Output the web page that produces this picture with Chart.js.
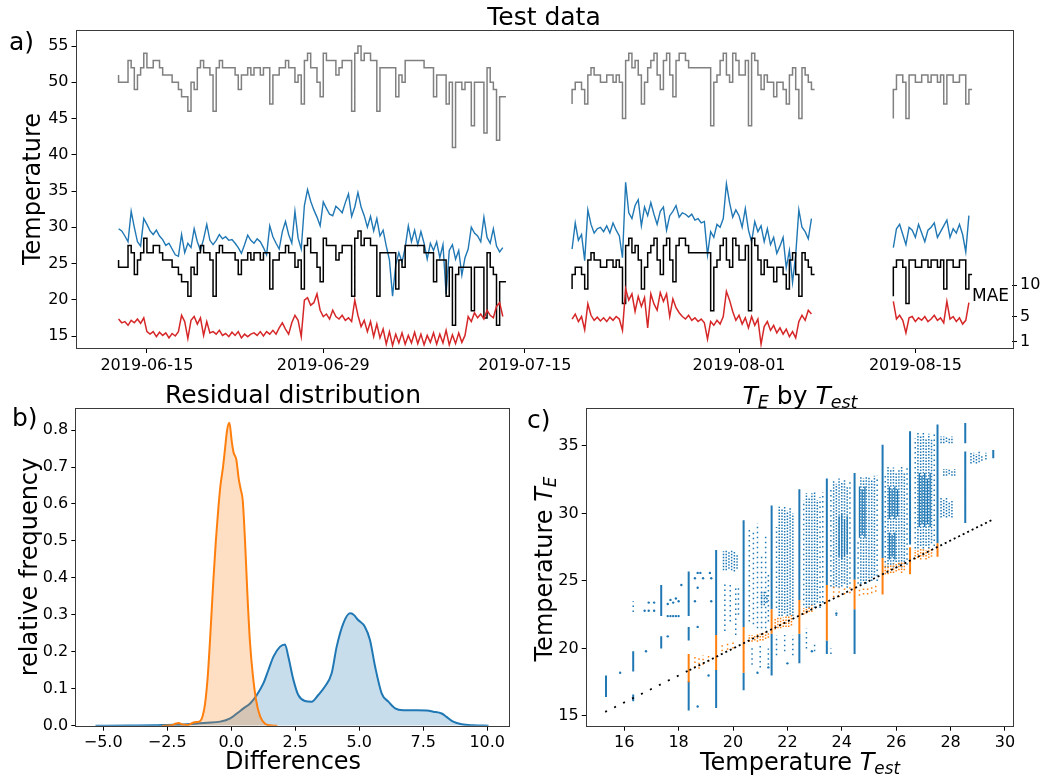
<!DOCTYPE html>
<html>
<head>
<meta charset="utf-8">
<script src="https://cdn.jsdelivr.net/npm/chart.js@4.4.4/dist/chart.umd.min.js"></script>
<style>
  html, body { margin: 0; padding: 0; background: #fff; }
  #wrap { position: relative; width: 1059px; height: 779px; overflow: hidden;
          font-family: 'DejaVu Sans', sans-serif; color: #000; }
  canvas { position: absolute; }
  .t { position: absolute; white-space: nowrap; line-height: 1; }
  .c { transform: translateX(-50%); }
  .r { transform: translate(-50%, -50%) rotate(-90deg); }
  sub { font-size: 70%; vertical-align: -0.25em; line-height: 0; }
</style>
</head>
<body>
<div id="wrap">
  <canvas id="chart-a" width="1059" height="380" style="left:0;top:0"></canvas>
  <canvas id="chart-b" width="530" height="399" style="left:0;top:380px"></canvas>
  <canvas id="chart-c" width="529" height="399" style="left:530px;top:380px"></canvas>

  <div class="t c" style="left:544px;top:4px;font-size:25px">Test data</div>
  <div class="t" style="left:9px;top:29px;font-size:25px">a)</div>
  <div class="t r" style="left:32px;top:189px;font-size:24px">Temperature</div>
  <div class="t" style="left:972px;top:287px;font-size:17px">MAE</div>

  <div class="t c" style="left:293px;top:382px;font-size:25px">Residual distribution</div>
  <div class="t" style="left:12px;top:405px;font-size:25px">b)</div>
  <div class="t r" style="left:29px;top:567px;font-size:24px">relative frequency</div>
  <div class="t c" style="left:293px;top:749px;font-size:24px">Differences</div>

  <div class="t c" style="left:800px;top:383px;font-size:25px"><i>T</i><sub><i>E</i></sub> by <i>T</i><sub><i>est</i></sub></div>
  <div class="t" style="left:527px;top:407px;font-size:25px">c)</div>
  <div class="t r" style="left:544px;top:569px;font-size:24px">Temperature <i>T</i><sub><i>E</i></sub></div>
  <div class="t c" style="left:800px;top:750px;font-size:24px">Temperature <i>T</i><sub><i>est</i></sub></div>
</div>

<script>
// ─── Panel a: test data time series ─────────────────────────────────────────
// x in days since 2019-06-01
const tickDays   = [14, 28, 44, 61, 75];
const tickLabels = ['2019-06-15', '2019-06-29', '2019-07-15', '2019-08-01', '2019-08-15'];
const tempTicks  = [15, 20, 25, 30, 35, 40, 45, 50, 55];
const maeTicks   = [1, 5, 10];
const segStart   = [11.75, 47.75, 73.25];
const sampleStep = 0.25;  // days between samples

const grayS1 = [51,50,50,50,53,52,49,51,52,54,52,52,53,53,52,51,51,51,50,50,49,48,48,46,50,49,52,53,52,52,51,46,
                52,53,52,52,52,52,51,49,51,51,52,51,52,52,51,52,52,47,51,51,52,52,53,52,52,50,51,47,53,54,52,52,
                50,48,54,53,53,53,51,52,53,53,53,46,54,55,53,54,54,53,53,46,52,52,52,52,52,48,51,50,53,53,53,53,
                53,53,52,52,52,48,51,51,51,47,50,41,50,50,49,50,50,44,50,50,50,43,52,50,49,42,48,48];
const grayS2 = [47,49,50,50,49,47,51,52,51,51,50,50,51,51,50,51,50,45,53,54,52,53,51,47,50,52,53,54,51,49,53,54,
                51,48,53,54,54,53,52,52,52,52,52,52,52,44,50,51,53,54,51,50,54,53,51,51,53,44,54,53,51,49,51,50,
                50,48,50,50,49,47,51,52,49,45,52,51,50,49];
const grayS3 = [45,49,51,51,50,45,51,51,50,50,51,51,50,51,51,50,51,47,51,51,50,50,51,51,47,49];

const blackS1 = [25.5,24.5,24.5,24.5,27.5,26.5,23.5,25.5,26.5,28.5,26.5,26.5,27.5,27.5,26.5,25.5,25.5,25.5,24.5,24.5,
                 23.5,22.5,22.5,20.5,24.5,23.5,26.5,27.5,26.5,26.5,25.5,20.5,26.5,27.5,26.5,26.5,26.5,26.5,25.5,23.5,
                 25.5,25.5,26.5,25.5,26.5,26.5,25.5,26.5,26.5,21.5,25.5,25.5,26.5,26.5,27.5,26.5,26.5,24.5,25.5,21.5,
                 27.5,28.5,26.5,26.5,24.5,22.5,28.5,27.5,27.5,27.5,25.5,26.5,27.5,27.5,27.5,20.5,28.5,29.5,27.5,28.5,
                 28.5,27.5,27.5,20.5,26.5,26.5,26.5,26.5,26.5,21.5,25.5,24.5,27.5,27.5,27.5,27.5,27.5,27.5,26.5,26.5,
                 26.5,22.5,25.5,25.5,25.5,20.5,24.5,16.5,23.5,24.5,24.5,24.5,24.5,18.5,24.5,24.5,24.5,17.5,26.5,24.5,
                 23.5,16.5,22.5,22.5];
const blackS2 = [21.5,23.5,24.5,24.5,23.5,21.5,25.5,26.5,25.5,25.5,24.5,24.5,25.5,25.5,24.5,25.5,24.5,19.5,27.5,28.5,
                 26.5,27.5,25.5,21.5,24.5,26.5,27.5,28.5,25.5,23.5,27.5,28.5,25.5,22.5,27.5,28.5,28.5,27.5,26.5,26.5,
                 26.5,26.5,26.5,26.5,26.5,18.5,24.5,25.5,27.5,28.5,25.5,24.5,28.5,27.5,25.5,25.5,27.5,18.5,28.5,27.5,
                 25.5,23.5,25.5,24.5,24.5,22.5,24.5,24.5,23.5,21.5,25.5,26.5,23.5,20.5,26.5,25.5,24.5,23.5];
const blackS3 = [20.5,24.5,25.5,25.5,24.5,19.5,25.5,25.5,24.5,24.5,25.5,25.5,24.5,25.5,25.5,24.5,25.5,21.5,25.5,25.5,
                 24.5,24.5,25.5,25.5,21.5,23.5];

const blueS1 = [29.8,29.5,28.8,28.0,32.2,30.0,28.0,27.4,31.2,30.4,29.5,29.0,29.6,28.8,28.3,27.5,27.8,27.0,26.2,26.0,
                29.0,26.5,27.8,27.2,29.8,28.0,26.8,28.4,30.4,28.2,27.6,28.2,29.0,28.4,28.7,28.2,28.3,27.8,27.2,26.4,
                27.6,28.9,28.2,27.8,28.4,28.0,27.2,26.2,30.2,28.7,27.8,27.0,29.4,30.8,29.0,27.8,32.2,28.5,27.0,33.0,
                35.2,33.6,32.4,31.4,30.2,33.5,32.6,31.8,31.6,32.9,32.5,32.0,33.4,34.6,31.5,32.8,34.8,32.8,31.6,30.0,
                31.5,29.5,31.2,28.8,29.6,27.4,25.5,20.5,24.8,26.5,25.2,27.2,30.2,28.0,29.6,27.6,29.4,27.8,25.6,27.8,
                26.8,28.0,25.8,27.6,20.8,26.8,27.6,25.6,26.8,23.4,25.8,27.0,30.0,29.2,28.8,28.0,31.4,28.6,27.8,29.8,
                27.4,26.6,27.2];
const blueS2 = [27.0,30.6,28.2,29.0,25.4,32.4,30.4,29.2,29.8,30.0,29.4,30.2,29.2,30.6,29.6,28.8,25.8,36.2,32.0,31.2,
                33.0,33.8,30.2,32.8,31.6,33.4,31.8,30.4,32.2,32.8,29.6,31.6,32.2,33.0,31.4,32.0,31.8,31.4,31.8,31.0,
                31.2,30.6,30.8,26.2,29.4,28.6,30.4,30.0,31.2,36.0,33.4,31.4,32.4,31.6,30.0,32.6,29.6,28.0,30.8,29.4,
                30.2,28.0,29.8,27.6,28.6,26.4,27.4,28.6,24.4,26.8,22.4,26.2,32.4,30.0,29.4,28.4,31.2];
const blueS3 = [27.2,29.8,30.4,29.0,27.6,30.0,29.6,28.6,30.4,29.2,28.0,29.6,30.0,30.6,28.6,29.4,30.2,31.0,28.6,29.8,
                29.2,30.4,29.0,26.6,31.6];

// MAE values (right axis)
const redS1 = [4.6,4.0,4.2,3.6,4.4,4.0,4.6,3.9,4.8,2.6,2.2,2.6,1.8,2.5,2.0,2.4,1.6,2.3,1.9,2.6,
               5.2,4.2,1.5,4.4,5.0,3.8,4.8,2.0,4.2,2.4,2.6,2.2,2.8,2.0,2.3,1.8,2.5,2.0,2.6,1.6,
               2.2,1.8,2.2,2.4,2.0,2.6,1.9,2.6,2.2,2.8,2.2,3.2,4.0,3.0,2.2,4.0,5.2,4.4,1.8,7.6,
               8.0,6.8,7.2,8.6,6.0,5.0,5.4,4.6,6.0,5.0,4.6,5.2,4.4,4.8,4.2,7.6,5.2,3.4,4.4,2.6,
               4.2,1.8,3.8,1.6,3.0,0.6,2.6,0.4,2.2,0.8,2.4,0.6,2.0,0.8,2.5,0.7,2.2,0.5,2.0,0.9,
               2.4,0.6,2.2,0.8,2.8,0.5,2.1,0.7,2.4,0.9,2.0,5.0,4.2,5.6,4.8,5.4,4.6,6.0,5.2,4.8,
               6.6,7.2,5.0];
const redS2 = [4.6,5.4,4.2,5.0,2.9,7.0,5.2,4.4,4.9,4.3,4.8,4.2,4.9,4.4,5.0,4.6,2.8,9.4,7.6,8.6,
               5.8,8.2,6.6,8.0,3.2,8.6,7.0,6.0,8.8,7.4,8.6,5.0,7.8,6.4,5.6,5.0,4.6,5.2,4.4,4.8,
               4.2,4.6,4.0,1.4,4.2,3.6,4.4,3.8,5.0,9.0,7.6,5.8,4.4,5.2,3.8,4.8,3.2,5.0,3.6,4.6,
               0.6,3.4,4.2,2.8,3.6,2.4,3.2,2.2,3.0,1.8,2.6,1.6,4.2,5.2,4.4,6.0,5.4];
const redS3 = [7.4,4.6,5.2,4.4,2.4,4.8,5.0,4.2,4.8,4.4,5.0,4.2,4.6,5.2,4.4,4.8,4.0,7.4,4.6,5.0,
               4.2,4.8,3.8,4.4,7.2];

// ─── Panel b: residual KDEs ─────────────────────────────────────────────────
const diffTicks      = [-5, -2.5, 0, 2.5, 5, 7.5, 10];
const diffTickLabels = ['\u22125.0', '\u22122.5', '0.0', '2.5', '5.0', '7.5', '10.0'];
const freqTicks      = [0, 0.1, 0.2, 0.3, 0.4, 0.5, 0.6, 0.7, 0.8];

const kdeOrangeX = [-2.7,-2.35,-2.15,-2.05,-1.9,-1.7,-1.5,-1.35,-1.22,-1.12,-1.02,-0.92,-0.82,-0.7,-0.6,-0.5,-0.42,-0.32,
                    -0.24,-0.16,-0.07,0.02,0.09,0.2,0.29,0.37,0.45,0.54,0.63,0.73,0.84,0.97,1.13,1.32,1.52,1.8];
const kdeOrangeY = [0,0.001,0.006,0.007,0.003,0.002,0.008,0.01,0.012,0.025,0.06,0.13,0.24,0.39,0.5,0.59,0.65,0.7,
                    0.75,0.8,0.82,0.77,0.74,0.72,0.67,0.64,0.61,0.5,0.36,0.23,0.14,0.07,0.025,0.005,0.001,0];
const kdeBlueX = [-5.3,-4.0,-3.0,-2.5,-1.86,-0.95,-0.43,-0.04,0.22,0.48,0.74,1.0,1.26,1.45,1.65,1.91,2.1,2.23,2.43,2.62,
                  2.88,3.14,3.4,3.66,3.92,4.12,4.38,4.64,4.77,4.96,5.22,5.42,5.62,5.88,6.14,6.4,6.72,7.24,7.63,7.89,
                  8.22,8.41,8.67,9.0,9.45,10.05];
const kdeBlueY = [0,0.0005,0.001,0.002,0.003,0.008,0.011,0.02,0.033,0.047,0.06,0.083,0.115,0.15,0.187,0.214,0.22,0.187,0.124,0.083,
                  0.067,0.065,0.083,0.106,0.141,0.214,0.277,0.304,0.301,0.286,0.268,0.232,0.16,0.087,0.065,0.047,0.042,0.042,0.041,0.038,
                  0.033,0.024,0.011,0.004,0.001,0];

// ─── Panel c: T_E by T_est ─────────────────────────────────────────────────
const estTicks = [16, 18, 20, 22, 24, 26, 28, 30];
const teTicks  = [15, 20, 25, 30, 35];

// [x, yLow, yHigh] solid columns of overlapping points
const blueCols = [[15.33,16.4,18.0],[16.33,16.1,16.6],[16.33,18.3,19.8],[17.36,22.4,24.7],[17.36,20.0,20.9],
  [18.37,22.4,25.7],[18.37,20.6,21.6],[18.37,15.4,17.6],[19.38,21.0,27.3],[19.38,15.6,18.4],
  [20.39,21.6,29.5],[20.39,16.9,18.2],[21.42,22.9,30.6],[21.42,18.0,21.1],[22.44,23.6,31.8],[22.44,18.9,21.1],
  [23.45,24.7,32.6],[23.45,19.6,20.6],[24.47,25.1,33.0],[24.47,19.6,22.9],[25.5,26.7,35.1],[26.51,27.7,36.1],
  [27.52,27.8,36.6],[28.54,35.2,36.7],[28.54,29.3,34.6],[29.57,34.1,34.7]];
const orangeCols = [[18.37,17.5,19.6],[19.38,18.4,21.0],[20.39,18.2,21.6],[21.42,21.1,22.9],[22.44,21.1,23.6],
  [23.45,20.6,24.7],[24.47,22.9,25.1],[25.5,24.0,26.7],[26.51,25.5,27.5],[27.52,26.8,27.8]];

// [x, yLow, yHigh] streaks of separate points
const blueSparse = [[16.33,22.7,23.5],[19.7,21.3,25.0],[19.9,22.0,24.8],[20.1,21.0,24.6],[20.2,22.5,24.5],
  [20.6,22.0,29.0],[20.75,21.8,28.8],[20.9,21.5,29.3],[21.05,21.5,27.0],[21.2,21.5,28.5],[21.3,22.0,25.5],
  [20.7,18.8,20.2],[21.0,18.6,20.3],[21.3,18.8,20.0],[21.6,23.0,29.0],[21.6,19.5,21.0],[21.9,19.8,21.0],[22.2,19.5,21.0],
  [22.6,23.2,31.0],[23.2,23.0,31.2],[23.3,23.4,31.6],[22.7,20.0,21.5],[23.0,19.8,20.5],
  [23.6,24.6,32.0],[24.3,24.8,32.4],[23.8,22.4,22.8],[23.6,19.6,20.0],[25.3,25.0,32.8],[24.6,24.8,28.0],
  [25.6,26.0,33.0],[26.4,26.2,33.5],[26.7,27.4,35.6],[27.4,27.6,36.0]];
const blueDense = [[19.65,25.8,27.2],[19.75,25.8,27.3],[19.85,25.9,27.2],[19.95,25.8,27.3],[20.05,25.7,27.2],[20.15,25.9,27.0],
  [21.05,23.2,24.3],[21.15,23.2,24.3],[21.25,23.4,24.0],
  [21.7,22.4,30.5],[21.8,22.4,30.4],[21.9,22.6,30.6],[22.0,22.4,30.2],[22.1,22.5,30.5],[22.2,22.4,30.0],
  [22.7,23.0,31.5],[22.8,23.0,31.2],[22.9,23.2,31.5],[23.0,23.0,31.6],[23.1,23.4,31.0],
  [23.7,24.5,32.5],[23.8,24.6,32.2],[23.9,24.5,32.6],[24.0,24.6,32.3],[24.1,24.8,32.5],[24.2,24.5,32.0],
  [24.7,24.8,32.8],[24.8,25.0,32.6],[24.9,24.8,32.8],[25.0,25.2,32.7],[25.1,25.0,32.5],[25.2,25.4,32.8],
  [25.7,26.0,33.5],[25.8,26.2,33.2],[25.9,26.0,33.4],[26.0,26.4,33.0],[26.1,26.2,33.3],[26.2,26.0,33.5],[26.3,26.4,33.0],
  [26.8,27.4,36.0],[26.9,27.6,35.8],[27.0,27.4,36.0],[27.1,27.6,35.6],[27.2,27.4,35.9],[27.3,27.8,35.5],
  [27.65,35.2,35.7],[27.75,35.2,35.7],[27.85,35.3,35.7],[27.95,35.2,35.6],[28.05,35.2,35.7],
  [27.75,32.8,33.3],[27.85,32.8,33.3],[27.95,32.9,33.3],[28.05,32.8,33.2],[28.15,32.8,33.3],
  [27.65,29.7,31.2],[27.75,29.8,31.0],[27.85,29.7,31.2],[27.95,29.8,30.8],[28.05,29.7,31.0],
  [28.75,33.7,34.6],[28.85,33.8,34.5],[28.95,33.7,34.4],[29.05,33.8,34.6],[29.15,33.9,34.3],[29.3,34.0,34.5]];
const blueHeavy = [[23.9,26.8,29.8],[24.0,26.6,30.0],[24.1,26.8,29.6],[24.2,27.0,29.8],
  [24.65,28.2,32.0],[24.75,28.4,31.8],[24.85,28.2,32.0],
  [25.75,29.6,32.0],[25.85,29.8,31.8],[25.95,29.6,32.0],[26.05,29.8,31.8],
  [25.75,26.6,28.6],[25.85,26.8,28.4],[25.95,26.6,28.6],
  [26.85,29.0,33.0],[26.95,29.2,32.8],[27.05,29.0,33.0],[27.15,29.2,32.6],[27.25,29.0,33.0]];
const orangeDense = [[20.6,20.5,21.0],[20.7,20.5,21.0],[20.8,20.6,21.0],[20.9,20.5,21.1],[21.0,20.6,21.1],[21.1,20.6,21.2],
  [21.2,20.7,21.2],[21.3,20.8,21.2],
  [21.55,21.4,22.2],[21.65,21.5,22.3],[21.75,21.5,22.3],[21.85,21.6,22.3],[21.95,21.6,22.4],[22.05,21.6,22.4],[22.15,21.7,22.5],
  [22.6,22.5,23.0],[22.7,22.6,23.0],[22.8,22.7,23.1],[22.9,22.7,23.2],
  [25.6,25.5,26.2],[25.7,25.5,26.2],[25.8,25.6,26.2],[25.9,25.6,26.3],[26.0,25.7,26.3],[26.1,25.8,26.4],[26.2,25.6,26.4],[26.3,25.8,26.4],
  [26.7,26.6,27.3],[26.8,26.7,27.3],[26.9,26.6,27.4],[27.0,26.8,27.4],[27.1,26.6,27.3],[27.2,26.7,27.4],[27.3,26.8,27.4]];
const orangeSparse = [[18.6,18.6,19.6],[18.75,18.5,19.4],[18.9,18.8,19.5],[19.1,19.0,19.6],
  [19.6,19.8,20.4],[19.8,19.9,20.5],[20.0,20.0,20.6],
  [23.7,23.8,24.6],[23.9,23.8,24.5],[24.1,24.0,24.6],[24.3,24.1,24.7],
  [24.65,23.9,24.5],[24.8,24.0,24.5],[24.95,24.0,24.6],[25.1,24.1,24.6],[25.25,24.2,24.8]];
const blueDotX = [15.85,16.8,16.75,16.9,17.1,16.9,17.1,17.6,17.7,17.8,17.9,18.0,17.6,17.7,17.8,17.9,18.0,18.1,17.6,
                  18.6,18.7,18.8,18.9,19.15,19.2,18.7,18.6,19.2,18.7,18.7,19.1,20.9,21.3,22.0,22.9,23.8];
const blueDotY = [18.2,19.8,22.8,22.8,22.8,23.4,23.4,22.4,22.4,22.4,22.4,22.4,23.3,23.6,23.4,23.7,23.5,24.7,20.9,
                  25.2,25.6,25.6,25.2,25.6,25.2,24.5,23.5,23.5,21.6,15.7,18.0,18.2,18.6,18.9,19.8,22.6];
const diagSparseX = [15.3, 18.4], diagSparseY = [15.3, 18.4];
const diagDenseX  = [18.4, 29.6], diagDenseY  = [18.4, 29.6];

// ─── Helpers ────────────────────────────────────────────────────────────────
Chart.defaults.font.family = "'DejaVu Sans', sans-serif";
Chart.defaults.font.size   = 16;
Chart.defaults.color       = '#000';
Chart.defaults.animation   = false;

const BLUE = '#1f77b4', ORANGE = '#ff7f0e', RED = '#d62728', GRAY = '#808080';

function segPoints(starts, segs, step) {
  const pts = [];
  segs.forEach((vals, k) => {
    vals.forEach((v, i) => pts.push({ x: starts[k] + i * step, y: v }));
    pts.push({ x: starts[k] + vals.length * step, y: null });
  });
  return pts;
}

function streakPoints(list) {
  const pts = [];
  list.forEach(([x, lo, hi]) => pts.push({ x, y: lo }, { x, y: hi }, { x, y: null }));
  return pts;
}

function xyPoints(xs, ys) {
  return xs.map((x, i) => ({ x, y: ys[i] }));
}

function axis(opts) {
  const ax = {
    type: 'linear',
    grid: { display: true, drawOnChartArea: false, drawTicks: true, tickLength: 5, tickColor: '#000', tickWidth: 1 },
    border: { display: false },
    ticks: { color: '#000', font: { size: 16 }, autoSkip: false, maxRotation: 0, minRotation: 0, padding: 3 },
  };
  const tickVals = opts.tickVals;
  const labels   = opts.labels;
  const fmt      = opts.fmt;
  delete opts.tickVals; delete opts.labels; delete opts.fmt;
  Object.assign(ax, opts);
  ax.afterBuildTicks = s => { s.ticks = tickVals.map(v => ({ value: v })); };
  if (labels) ax.ticks.callback = (v, i) => labels[i];
  if (fmt) ax.ticks.callback = fmt;
  return ax;
}

// draws the full rectangular frame round the plot area
const framePlugin = {
  id: 'frame',
  afterDatasetsDraw(chart) {
    const { ctx, chartArea: a } = chart;
    ctx.save();
    ctx.strokeStyle = '#3a3a3a';
    ctx.lineWidth = 1;
    ctx.strokeRect(Math.round(a.left) - 0.5, Math.round(a.top) - 0.5,
                   Math.round(a.right - a.left) + 1, Math.round(a.bottom - a.top) + 1);
    ctx.restore();
  },
};

const baseOptions = {
  responsive: false,
  animation: false,
  devicePixelRatio: 1,
  elements: { point: { radius: 0 }, line: { borderWidth: 1.5, tension: 0 } },
  plugins: { legend: { display: false }, tooltip: { enabled: false } },
};

// ─── Chart a ────────────────────────────────────────────────────────────────
new Chart(document.getElementById('chart-a'), {
  type: 'line',
  data: {
    datasets: [
      { data: segPoints(segStart, [redS1, redS2, redS3], sampleStep), borderColor: RED, borderWidth: 1.5,
        yAxisID: 'mae', order: 0 },
      { data: segPoints(segStart, [blackS1, blackS2, blackS3], sampleStep), borderColor: '#000',
        stepped: 'after', yAxisID: 'y', order: 1 },
      { data: segPoints(segStart, [blueS1, blueS2, blueS3], sampleStep), borderColor: BLUE, borderWidth: 1.4,
        yAxisID: 'y', order: 2 },
      { data: segPoints(segStart, [grayS1, grayS2, grayS3], sampleStep), borderColor: GRAY,
        stepped: 'after', yAxisID: 'y', order: 3 },
    ],
  },
  options: {
    ...baseOptions,
    layout: { padding: { left: 30.5, right: 11, top: 31, bottom: 8 } },
    scales: {
      x: axis({ position: 'bottom', min: 8.41, max: 82.67, tickVals: tickDays, labels: tickLabels,
                afterFit: s => { s.height = 24; } }),
      y: axis({ position: 'left', min: 13.35, max: 57.07, tickVals: tempTicks,
                afterFit: s => { s.width = 46; } }),
      mae: axis({ position: 'right', min: 0, max: 50.37, tickVals: maeTicks,
                  afterFit: s => { s.width = 36; } }),
    },
  },
  plugins: [framePlugin],
});

// ─── Chart b ────────────────────────────────────────────────────────────────
new Chart(document.getElementById('chart-b'), {
  type: 'line',
  data: {
    datasets: [
      { data: xyPoints(kdeOrangeX, kdeOrangeY), borderColor: ORANGE, backgroundColor: 'rgba(255,127,14,0.25)',
        fill: 'origin', borderWidth: 2, cubicInterpolationMode: 'monotone', order: 0 },
      { data: xyPoints(kdeBlueX, kdeBlueY), borderColor: BLUE, backgroundColor: 'rgba(31,119,180,0.25)',
        fill: 'origin', borderWidth: 2, cubicInterpolationMode: 'monotone', order: 1 },
    ],
  },
  options: {
    ...baseOptions,
    layout: { padding: { left: 30.3, right: 21, top: 29, bottom: 29.3 } },
    scales: {
      x: axis({ position: 'bottom', min: -6.05, max: 10.85, tickVals: diffTicks, labels: diffTickLabels,
                afterFit: s => { s.height = 24; } }),
      y: axis({ position: 'left', min: 0, max: 0.857, tickVals: freqTicks, fmt: v => v.toFixed(1),
                afterFit: s => { s.width = 46; } }),
    },
  },
  plugins: [framePlugin],
});

// ─── Chart c ────────────────────────────────────────────────────────────────
new Chart(document.getElementById('chart-c'), {
  type: 'line',
  data: {
    datasets: [
      { data: xyPoints(diagDenseX, diagDenseY), borderColor: '#000', borderWidth: 1.8, borderDash: [2, 3], order: 0 },
      { data: xyPoints(diagSparseX, diagSparseY), borderColor: '#000', borderWidth: 1.8, borderDash: [2, 8], order: 0 },
      { data: streakPoints(orangeCols), borderColor: ORANGE, borderWidth: 2, order: 1 },
      { data: streakPoints(orangeDense), borderColor: ORANGE, borderWidth: 1.5, borderDash: [1.5, 1.5], order: 2 },
      { data: streakPoints(orangeSparse), borderColor: ORANGE, borderWidth: 1.5, borderDash: [1.5, 3], order: 2 },
      { data: streakPoints(blueCols), borderColor: BLUE, borderWidth: 2, order: 3 },
      { data: streakPoints(blueHeavy), borderColor: BLUE, borderWidth: 1.3, order: 4 },
      { data: streakPoints(blueDense), borderColor: BLUE, borderWidth: 1.5, borderDash: [1.5, 1.5], order: 5 },
      { data: streakPoints(blueSparse), borderColor: BLUE, borderWidth: 1.5, borderDash: [1.5, 3.5], order: 5 },
      { data: xyPoints(blueDotX, blueDotY), showLine: false, pointRadius: 1.2, pointBorderWidth: 0,
        pointBackgroundColor: BLUE, order: 5 },
    ],
  },
  options: {
    ...baseOptions,
    layout: { padding: { left: 20.7, right: 46.7, top: 29, bottom: 29.3 } },
    scales: {
      x: axis({ position: 'bottom', min: 14.62, max: 30.27, tickVals: estTicks,
                afterFit: s => { s.height = 24; } }),
      y: axis({ position: 'left', min: 14.28, max: 37.74, tickVals: teTicks,
                afterFit: s => { s.width = 36; } }),
    },
  },
  plugins: [framePlugin],
});
</script>
</body>
</html>
